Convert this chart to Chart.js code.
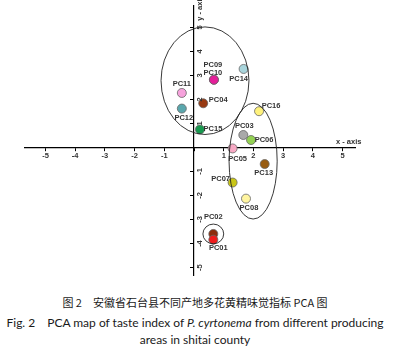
<!DOCTYPE html>
<html lang="zh-cn">
	<head>
		<meta charset="UTF-8" />
		<title>PCA map</title>
		<script src="https://cdn.jsdelivr.net/npm/chart.js"></script>
		<style>
			body {
				margin: 0;
				width: 407px;
				height: 351px;
				background: #fff;
				overflow: hidden;
			}
			#wrap {
				position: absolute;
				left: 0;
				top: 0;
				width: 407px;
				height: 285px;
			}
			.cap {
				position: absolute;
				left: 0;
				width: 390px;
				text-align: center;
				color: #1a1a1a;
				white-space: nowrap;
			}
			.cn {
				top: 294px;
				font: 11px "Noto Sans CJK SC", sans-serif;
			}
			.en {
				font: 12px Lato, sans-serif;
			}
		</style>
	</head>
	<body>
		<div id="wrap"><canvas id="pca" width="407" height="285"></canvas></div>
		<div class="cap cn">图 2　安徽省石台县不同产地多花黄精味觉指标 PCA 图</div>
		<div class="cap en" style="top: 313px">Fig. 2　PCA map of taste index of <i>P. cyrtonema</i> from different producing</div>
		<div class="cap en" style="top: 332px">areas in shitai county</div>
		<script>
			// samples (PC02 before PC01 so the red one sits on top)
			const samples = ["PC02", "PC01", "PC03", "PC04", "PC05", "PC06", "PC07", "PC08",
				"PC09", "PC10", "PC11", "PC12", "PC13", "PC14", "PC15", "PC16"];
			const pc1 = [0.65, 0.65, 1.66, 0.31, 1.3, 1.92, 1.3, 1.75,
				0.67, 0.67, -0.41, -0.41, 2.38, 1.67, 0.2, 2.19];
			const pc2 = [-3.6, -3.84, 0.52, 1.84, -0.04, 0.31, -1.46, -2.13,
				2.82, 2.82, 2.27, 1.62, -0.69, 3.27, 0.75, 1.51];

			// group ellipses: centre and half axes in data units
			const groupX = [0.37, 1.99, 0.65];
			const groupY = [2.78, -0.57, -3.6];
			const groupRx = [1.48, 0.81, 0.35];
			const groupRy = [2.24, 2.41, 0.41];

			const xTicks = [-5, -4, -3, -2, -1, 1, 2, 3, 4, 5];
			const yTicks = [-5, -4, -3, -2, -1, 1, 2, 3, 4, 5];

			const colores = ["#8c2c0c", "#ee1c1c", "#a9a9a9", "#983a12", "#f7a9c4", "#93d153",
				"#c9c617", "#fff5a0", "#e51e9a", "#e51e9a", "#f6a2dc", "#5aa7ad",
				"#985c12", "#a9d5dc", "#18994f", "#fff27c"];
			// label offset from the point, pixels
			const desloc = [[0, -17], [5, 8], [1, -9], [15, -3], [5, 11], [13, 0], [-12, -4], [3, 9],
				[-1, -15], [-1, -7], [0, -9], [2, 9], [-1, 9], [-5, 10], [13, -1], [12, -5]];

			const fonte = "bold 7.5px 'Liberation Sans', Arial, sans-serif";

			const extras = {
				id: "extras",
				afterDatasetsDraw(chart) {
					const ctx = chart.ctx;
					const x = chart.scales.x;
					const y = chart.scales.y;
					ctx.save();
					// ellipses
					ctx.strokeStyle = "#222";
					ctx.lineWidth = 0.9;
					for (let i = 0; i < groupX.length; i++) {
						const cx = x.getPixelForValue(groupX[i]);
						const cy = y.getPixelForValue(groupY[i]);
						const rx = x.getPixelForValue(groupX[i] + groupRx[i]) - cx;
						const ry = cy - y.getPixelForValue(groupY[i] + groupRy[i]);
						ctx.beginPath();
						ctx.ellipse(cx, cy, rx, ry, 0, 0, Math.PI * 2);
						ctx.stroke();
					}
					// point labels
					ctx.fillStyle = "#333";
					ctx.font = fonte;
					ctx.textAlign = "center";
					ctx.textBaseline = "middle";
					chart.getDatasetMeta(0).data.forEach((p, i) => {
						ctx.fillText(samples[i], p.x + desloc[i][0], p.y + desloc[i][1]);
					});
					// y tick labels, rotated, right of the axis
					const x0 = x.getPixelForValue(0);
					yTicks.forEach((v) => {
						ctx.save();
						ctx.translate(x0 + 6, y.getPixelForValue(v));
						ctx.rotate(-Math.PI / 2);
						ctx.fillText(String(v), 0, 0);
						ctx.restore();
					});
					// axis titles
					ctx.textAlign = "left";
					ctx.fillText("x - axis", 336, y.getPixelForValue(0) - 6);
					ctx.save();
					ctx.translate(x0 + 6, 8);
					ctx.rotate(-Math.PI / 2);
					ctx.textAlign = "center";
					ctx.fillText("y - axis", 0, 0);
					ctx.restore();
					ctx.restore();
				},
			};

			new Chart(document.getElementById("pca"), {
				type: "scatter",
				data: {
					datasets: [
						{
							data: pc1.map((v, i) => ({ x: v, y: pc2[i] })),
							backgroundColor: colores,
							borderColor: "#666",
							borderWidth: 0.8,
							pointRadius: 4.5,
							pointHoverRadius: 4.5,
						},
					],
				},
				options: {
					responsive: false,
					animation: false,
					layout: { padding: { left: 25, right: 52, top: 0, bottom: 10 } },
					plugins: { legend: { display: false }, tooltip: { enabled: false } },
					scales: {
						x: {
							type: "linear",
							min: -5.69,
							max: 5.42,
							position: { y: 0 },
							border: { color: "#000", width: 1.2 },
							grid: { drawOnChartArea: false, color: "#000", tickLength: 3 },
							afterBuildTicks: (s) => { s.ticks = [0, ...xTicks].map((v) => ({ value: v })); },
							ticks: {
								padding: 1,
								color: "#333",
								font: { size: 7.5, weight: "bold", family: "'Liberation Sans', Arial" },
								callback: (v) => (v === 0 ? "" : v),
							},
						},
						y: {
							type: "linear",
							min: -5.31,
							max: 5.92,
							position: { x: 0 },
							border: { color: "#000", width: 1.2 },
							grid: { drawOnChartArea: false, color: "#000", tickLength: 3 },
							afterBuildTicks: (s) => { s.ticks = yTicks.map((v) => ({ value: v })); },
							ticks: { display: false },
						},
					},
				},
				plugins: [extras],
			});
		</script>
	</body>
</html>
